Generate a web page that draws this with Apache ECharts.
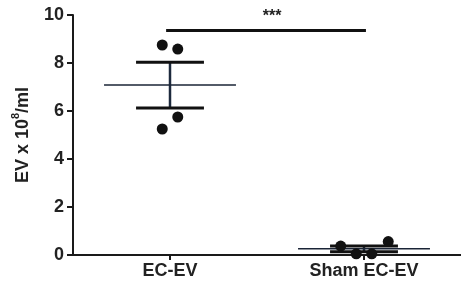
<!DOCTYPE html>
<html><head><meta charset="utf-8">
<script src="https://cdn.jsdelivr.net/npm/echarts@6/dist/echarts.min.js"></script>
<style>html,body{margin:0;padding:0;background:#fff}#c{width:461px;height:287px}</style>
</head><body><div id="c"></div>
<script>
const categories = ['EC-EV', 'Sham EC-EV'];
const ecevValues = [8.75, 8.58, 5.75, 5.25];
const ecevJitter = [-0.04, 0.04, 0.04, -0.04];
const shamValues = [0.37, 0.05, 0.05, 0.56];
const shamJitter = [-0.12, -0.04, 0.04, 0.125];
const means = [7.08, 0.26];
const sems = [0.95, 0.12];
const yTicks = [0, 2, 4, 6, 8, 10];
const sigY = 9.35;
const sigLabel = '***';

const points = [];
ecevValues.forEach((v, i) => points.push([0 + ecevJitter[i], v]));
shamValues.forEach((v, i) => points.push([1 + shamJitter[i], v]));

const chart = echarts.init(document.getElementById('c'), null, {renderer: 'canvas'});
const font = '"Liberation Sans", Arial, sans-serif';
chart.setOption({
  animation: false,
  grid: {left: 73, right: 0, top: 15, bottom: 32, containLabel: false},
  xAxis: {
    type: 'value', min: -0.5, max: 1.5,
    splitLine: {show: false},
    axisLine: {show: true, onZero: false, lineStyle: {color: '#1a1a1a', width: 2}},
    axisTick: {show: true, customValues: [0, 1], length: 5, lineStyle: {color: '#1a1a1a', width: 2}},
    axisLabel: {customValues: [0, 1], formatter: v => categories[Math.round(v)], fontFamily: font, fontWeight: 'bold', fontSize: 18, color: '#222', margin: 7}
  },
  yAxis: {
    type: 'value', min: 0, max: 10, interval: 2,
    splitLine: {show: false},
    axisLine: {show: true, onZero: false, lineStyle: {color: '#1a1a1a', width: 2}},
    axisTick: {show: true, length: 6, lineStyle: {color: '#1a1a1a', width: 2}},
    axisLabel: {fontFamily: font, fontWeight: 'bold', fontSize: 18, color: '#222', margin: 9},
    name: '{a|EV x 10}{s|8}{a|/ml}',
    nameLocation: 'middle', nameGap: 41, nameRotate: 90,
    nameTextStyle: {
      rich: {
        a: {fontFamily: font, fontWeight: 'bold', fontSize: 18, color: '#222', lineHeight: 22, verticalAlign: 'bottom'},
        s: {fontFamily: font, fontWeight: 'bold', fontSize: 11, color: '#222', lineHeight: 22, verticalAlign: 'top'}
      }
    }
  },
  series: [
    {
      type: 'custom',
      data: means.map((m, i) => [i, m, sems[i]]),
      renderItem: (params, api) => {
        const i = api.value(0), m = api.value(1), s = api.value(2);
        const l = api.coord([i - 0.34, m]), r = api.coord([i + 0.34, m]);
        const top = api.coord([i, m + s]), bot = api.coord([i, m - s]);
        const cl = api.coord([i - 0.175, m]), cr = api.coord([i + 0.175, m]);
        return {type: 'group', children: [
          {type: 'line', shape: {x1: top[0], y1: top[1], x2: bot[0], y2: bot[1]}, style: {stroke: '#1d2a3d', lineWidth: 2.5}},
          {type: 'line', shape: {x1: l[0], y1: l[1], x2: r[0], y2: r[1]}, style: {stroke: '#1a2436', lineWidth: 1.5}},
          {type: 'line', shape: {x1: cl[0], y1: top[1], x2: cr[0], y2: top[1]}, style: {stroke: '#111', lineWidth: 3}},
          {type: 'line', shape: {x1: cl[0], y1: bot[1], x2: cr[0], y2: bot[1]}, style: {stroke: '#111', lineWidth: 3}}
        ]};
      },
      z: 2
    },
    {
      type: 'scatter', data: points, symbol: 'circle', symbolSize: 11,
      itemStyle: {color: '#111', opacity: 1}, z: 3
    },
    {
      type: 'custom',
      data: [[0, 1, sigY]],
      renderItem: (params, api) => {
        const a = api.coord([api.value(0) - 0.02, api.value(2)]);
        const b = api.coord([api.value(1) + 0.01, api.value(2)]);
        return {type: 'group', children: [
          {type: 'line', shape: {x1: a[0], y1: a[1], x2: b[0], y2: b[1]}, style: {stroke: '#111', lineWidth: 3}},
          {type: 'text', style: {text: sigLabel, x: (a[0] + b[0]) / 2 + 6, y: a[1] - 6, align: 'center', verticalAlign: 'bottom', font: 'bold 16px ' + font, fill: '#222'}}
        ]};
      },
      z: 2
    }
  ]
});
</script></body></html>
